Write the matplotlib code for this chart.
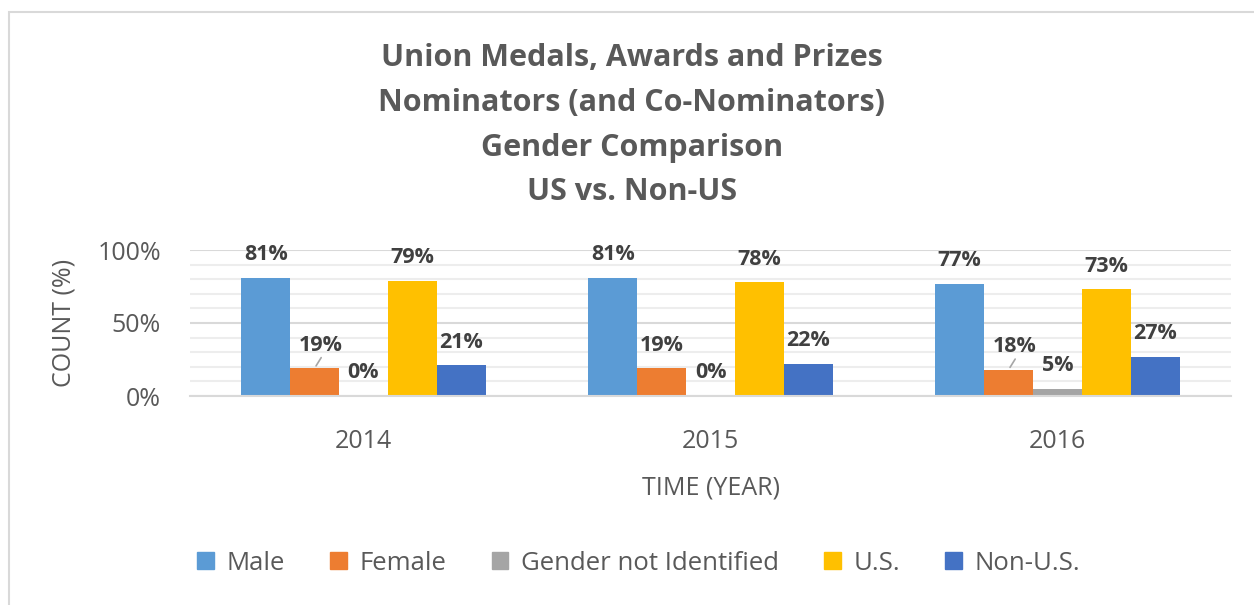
import matplotlib
matplotlib.use("Agg")
import matplotlib.pyplot as plt
import numpy as np
from matplotlib.patches import Rectangle

years = ["2014", "2015", "2016"]
series = ["Male", "Female", "Gender not Identified", "U.S.", "Non-U.S."]
male = [0.81, 0.81, 0.77]
female = [0.19, 0.19, 0.18]
gender_ni = [0.00, 0.00, 0.05]
us = [0.79, 0.78, 0.73]
non_us = [0.21, 0.22, 0.27]
colors = ["#5B9BD5", "#ED7D31", "#A5A5A5", "#FFC000", "#4472C4"]
title_lines = ["Union Medals, Awards and Prizes",
               "Nominators (and Co-Nominators)",
               "Gender Comparison",
               "US vs. Non-US"]

plt.rcParams['font.family'] = ['Open Sans', 'DejaVu Sans']
TXT = "#595959"
LBL = "#404040"

fig = plt.figure(figsize=(12.54, 6.05), dpi=100)
W, H = 1254, 605
# outer chart frame
fig.add_artist(Rectangle((8.5 / W, -0.05), 1.1, (605 - 11.5) / H + 0.05,
                         transform=fig.transFigure, fill=False,
                         edgecolor="#D9D9D9", linewidth=1.5))

ax = fig.add_axes([190 / W, (605 - 396) / H, (1231 - 190) / W, 146 / H])
data = [male, female, gender_ni, us, non_us]
x = np.arange(len(years))
bw = 0.141
for i, (vals, c) in enumerate(zip(data, colors)):
    pos = x + (i - 2) * bw
    ax.bar(pos, vals, width=bw, color=c, zorder=3, label=series[i])
    for j, (p, v) in enumerate(zip(pos, vals)):
        dx = 0
        leader = False
        if i == 1 and j != 1:
            dx = 6
            leader = True
        ax.annotate(f"{v*100:.0f}%", xy=(p, v), xytext=(dx * 0.72, 23 * 0.72),
                    textcoords="offset points", ha="center", va="center",
                    fontsize=15.5, fontweight="bold", color=LBL, zorder=5)
        if leader:
            ax.annotate("", xy=(p, v), xytext=(dx * 0.72 + 1.5, 13 * 0.72),
                        textcoords="offset points",
                        arrowprops=dict(arrowstyle="-", color="#A6A6A6", lw=1.2))

ax.set_xlim(-0.5, 2.5)
ax.set_ylim(0, 1.0)
ax.set_yticks([0, 0.5, 1.0])
ax.set_yticklabels(["0%", "50%", "100%"])
ax.set_yticks(np.arange(0.1, 1.0, 0.1), minor=True)
ax.set_xticks(x)
ax.set_xticklabels(years)
ax.tick_params(axis="both", which="both", length=0, labelsize=18, colors=TXT)
ax.tick_params(axis="y", pad=21)
ax.tick_params(axis="x", pad=24)
ax.grid(axis="y", which="major", color="#D9D9D9", linewidth=1.5, zorder=0)
ax.grid(axis="y", which="minor", color="#EDEDED", linewidth=1.5, zorder=0)
for s in ["top", "right", "left"]:
    ax.spines[s].set_visible(False)
ax.spines["bottom"].set_color("#D9D9D9")
ax.spines["bottom"].set_linewidth(1.5)
ax.spines["bottom"].set_zorder(4)
ax.set_axisbelow(True)

ax.set_xlabel("TIME (YEAR)", fontsize=18, color=TXT, labelpad=15)
ax.set_ylabel("COUNT (%)", fontsize=18, color=TXT, labelpad=15)

for k, t in enumerate(title_lines):
    fig.text(632 / W, 1 - (58 + 44.8 * k) / H, t, ha="center", va="center",
             fontsize=22, fontweight="bold", color=TXT)

handles = [Rectangle((0, 0), 1, 1, color=c) for c in colors]
leg = fig.legend(handles, series, loc="center", bbox_to_anchor=(639 / W, 1 - 563 / H),
                 ncol=5, frameon=False, fontsize=18.5, handlelength=0.65,
                 handleheight=0.65, handletextpad=0.5, columnspacing=1.75)
for t in leg.get_texts():
    t.set_color(TXT)

fig.savefig("out.png", dpi=100)
